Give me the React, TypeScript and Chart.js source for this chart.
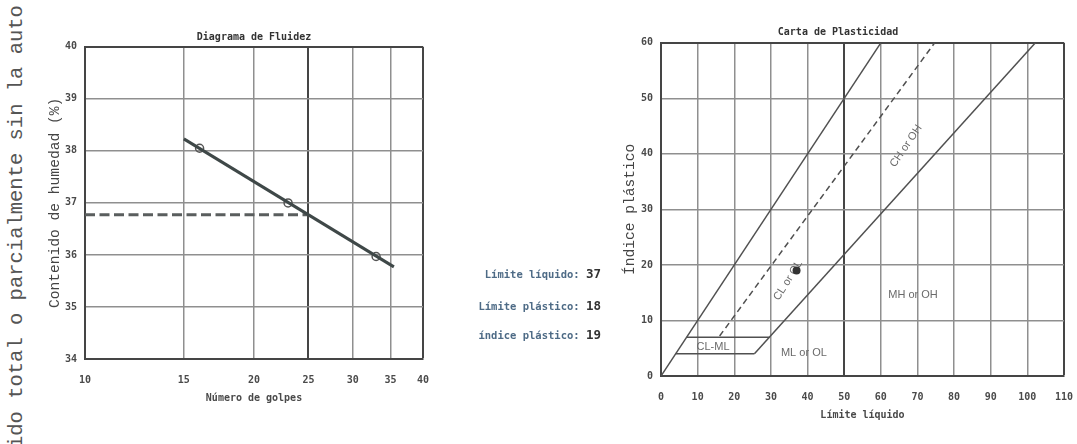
import React, { useEffect, useRef } from 'react';
import { Chart, registerables } from 'chart.js';

Chart.register(...registerables);

// ---------- Diagrama de Fluidez (left) ----------
const golpesTicks = [10, 15, 20, 25, 30, 35, 40];
const humedadTicks = [34, 35, 36, 37, 38, 39, 40];
const ensayoGolpes = [16, 23, 33];
const ensayoHumedad = [38.05, 37.0, 35.97];
const ajusteGolpes = [15, 35.5];
const ajusteHumedad = [38.23, 35.77];
const limiteGolpes = [10, 25];
const limiteHumedad = [36.77, 36.77];

// ---------- Carta de Plasticidad (right) ----------
const llTicks = [0, 10, 20, 30, 40, 50, 60, 70, 80, 90, 100, 110];
const ipTicks = [0, 10, 20, 30, 40, 50, 60];
const diagLL = [0, 60];
const diagIP = [0, 60];
const lineaULL = [16, 74.7];
const lineaUIP = [7.2, 60];
const lineaALL = [25.5, 102.2];
const lineaAIP = [4, 60];
const clml4LL = [4, 25.5];
const clml4IP = [4, 4];
const clml7LL = [7, 29.6];
const clml7IP = [7, 7];
const muestraLL = [37];
const muestraIP = [19];

const zoneLabels = ['CL-ML', 'ML or OL', 'MH or OH', 'CL or OL', 'CH or OH'];
const zoneLabelLL = [14.2, 39, 68.8, 34.7, 66.9];
const zoneLabelIP = [5.3, 4.2, 14.6, 17.2, 41.4];
const zoneLabelAngle = [0, 0, 0, -58, -56];

// ---------- Resultados ----------
const resultLabels = ['Límite líquido:', 'Límite plástico:', 'índice plástico:'];
const resultValues = [37, 18, 19];

const watermark = 'ido total o parcialmente sin la auto';

const pts = (xs: number[], ys: number[]) => xs.map((x, i) => ({ x, y: ys[i] }));

const MONO = '"DejaVu Sans Mono", monospace';
const COURIER = '"Liberation Mono", monospace';
const GRID = '#8f8f8f';
const DARK = '#454545';
const TXT = '#4a4a4a';

const zoneLabelPlugin = {
  id: 'zoneLabels',
  beforeDatasetsDraw(chart: any) {
    const { ctx, scales } = chart;
    const x = scales.x;
    const y = scales.y;
    ctx.save();
    ctx.fillStyle = '#6a6a6a';
    ctx.font = '11px "Liberation Sans Narrow", "Liberation Sans", sans-serif';
    ctx.textAlign = 'center';
    ctx.textBaseline = 'middle';
    zoneLabels.forEach((t, i) => {
      ctx.save();
      ctx.translate(x.getPixelForValue(zoneLabelLL[i]), y.getPixelForValue(zoneLabelIP[i]));
      ctx.rotate((zoneLabelAngle[i] * Math.PI) / 180);
      ctx.fillText(t, 0, 0);
      ctx.restore();
    });
    ctx.restore();
  },
};

const fitX = (h: number) => (s: any) => {
  s.height = h;
  s.paddingLeft = 0;
  s.paddingRight = 0;
};

const tickFont = { family: MONO, size: 10, weight: 'bold' };

export default function App() {
  const leftRef = useRef<HTMLCanvasElement>(null);
  const rightRef = useRef<HTMLCanvasElement>(null);

  useEffect(() => {
    const left = new Chart(leftRef.current as HTMLCanvasElement, {
      type: 'scatter',
      data: {
        datasets: [
          {
            data: pts(ajusteGolpes, ajusteHumedad),
            showLine: true,
            borderColor: '#3f4848',
            borderWidth: 3,
            pointRadius: 0,
          },
          {
            data: pts(limiteGolpes, limiteHumedad),
            showLine: true,
            borderColor: '#5a5e5e',
            borderWidth: 3,
            borderDash: [10, 4.5],
            pointRadius: 0,
          },
          {
            data: pts(ensayoGolpes, ensayoHumedad),
            showLine: false,
            pointRadius: 4,
            pointBorderWidth: 1.5,
            pointBorderColor: '#555',
            pointBackgroundColor: 'rgba(255,255,255,0)',
          },
        ],
      } as any,
      options: {
        animation: false,
        responsive: false,
        devicePixelRatio: 1,
        layout: { padding: { left: 40, right: 17, top: 0, bottom: 40 } },
        plugins: {
          legend: { display: false },
          tooltip: { enabled: false },
          title: {
            display: true,
            text: 'Diagrama de Fluidez',
            fullSize: false,
            color: '#333',
            font: tickFont,
            padding: { top: 31.7, bottom: 3.1 },
          },
        },
        scales: {
          x: {
            type: 'logarithmic',
            min: 10,
            max: 40,
            afterBuildTicks: (s: any) => {
              s.ticks = golpesTicks.map((v) => ({ value: v }));
            },
            afterFit: fitX(45),
            ticks: {
              callback: (v: any) => String(v),
              color: TXT,
              font: tickFont,
              padding: 15,
              maxRotation: 0,
              autoSkip: false,
            },
            grid: {
              drawTicks: false,
              color: (c: any) => (c.tick && (c.tick.value === 25 || c.tick.value === 40) ? DARK : GRID),
              lineWidth: (c: any) => (c.tick && (c.tick.value === 25 || c.tick.value === 40) ? 2 : 1.5),
            },
            border: { color: DARK, width: 2 },
            title: {
              display: true,
              text: 'Número de golpes',
              color: TXT,
              font: tickFont,
              padding: { top: 0, bottom: 0 },
            },
          },
          y: {
            type: 'linear',
            min: 34,
            max: 40,
            afterBuildTicks: (s: any) => {
              s.ticks = humedadTicks.map((v) => ({ value: v }));
            },
            afterFit: (s: any) => {
              s.width = 45;
            },
            ticks: {
              color: TXT,
              font: tickFont,
              padding: 8,
            },
            grid: {
              drawTicks: false,
              color: (c: any) => (c.tick && c.tick.value === 40 ? DARK : GRID),
              lineWidth: (c: any) => (c.tick && c.tick.value === 40 ? 2 : 1.5),
            },
            border: { color: DARK, width: 2 },
            title: {
              display: true,
              text: 'Contenido de humedad (%)',
              color: '#444',
              font: { family: COURIER, size: 14.6 },
              padding: { top: 6.2, bottom: 0 },
            },
          },
        },
      } as any,
    });

    const right = new Chart(rightRef.current as HTMLCanvasElement, {
      type: 'scatter',
      data: {
        datasets: [
          { data: pts(diagLL, diagIP), showLine: true, borderColor: '#505050', borderWidth: 1.5, pointRadius: 0 },
          {
            data: pts(lineaULL, lineaUIP),
            showLine: true,
            borderColor: '#505050',
            borderWidth: 1.5,
            borderDash: [6, 4],
            pointRadius: 0,
          },
          { data: pts(lineaALL, lineaAIP), showLine: true, borderColor: '#505050', borderWidth: 1.5, pointRadius: 0 },
          { data: pts(clml4LL, clml4IP), showLine: true, borderColor: '#505050', borderWidth: 1.5, pointRadius: 0 },
          { data: pts(clml7LL, clml7IP), showLine: true, borderColor: '#505050', borderWidth: 1.5, pointRadius: 0 },
          {
            data: pts(muestraLL, muestraIP),
            showLine: false,
            pointRadius: 4,
            pointBorderWidth: 0,
            pointBackgroundColor: '#333',
          },
        ],
      } as any,
      options: {
        animation: false,
        responsive: false,
        devicePixelRatio: 1,
        layout: { padding: { left: 12, right: 13, top: 0, bottom: 23 } },
        plugins: {
          legend: { display: false },
          tooltip: { enabled: false },
          title: {
            display: true,
            text: 'Carta de Plasticidad',
            color: '#333',
            font: tickFont,
            padding: { top: 26.7, bottom: 4.1 },
          },
        },
        scales: {
          x: {
            type: 'linear',
            min: 0,
            max: 110,
            afterBuildTicks: (s: any) => {
              s.ticks = llTicks.map((v) => ({ value: v }));
            },
            afterFit: fitX(45),
            ticks: {
              color: TXT,
              font: tickFont,
              padding: 15,
              maxRotation: 0,
              autoSkip: false,
            },
            grid: {
              drawTicks: false,
              color: (c: any) => (c.tick && (c.tick.value === 50 || c.tick.value === 110) ? DARK : GRID),
              lineWidth: (c: any) => (c.tick && (c.tick.value === 50 || c.tick.value === 110) ? 2 : 1.5),
            },
            border: { color: DARK, width: 2 },
            title: {
              display: true,
              text: 'Límite líquido',
              color: TXT,
              font: tickFont,
              padding: { top: 0, bottom: 0 },
            },
          },
          y: {
            type: 'linear',
            min: 0,
            max: 60,
            afterBuildTicks: (s: any) => {
              s.ticks = ipTicks.map((v) => ({ value: v }));
            },
            afterFit: (s: any) => {
              s.width = 49;
            },
            ticks: {
              color: TXT,
              font: tickFont,
              padding: 8,
            },
            grid: {
              drawTicks: false,
              color: (c: any) => (c.tick && c.tick.value === 60 ? DARK : GRID),
              lineWidth: (c: any) => (c.tick && c.tick.value === 60 ? 2 : 1.5),
            },
            border: { color: DARK, width: 2 },
            title: {
              display: true,
              text: 'Índice plástico',
              color: '#444',
              font: { family: COURIER, size: 14.6 },
              padding: { top: 9.2, bottom: 0 },
            },
          },
        },
      } as any,
      plugins: [zoneLabelPlugin as any],
    });

    return () => {
      left.destroy();
      right.destroy();
    };
  }, []);

  const resultTops = [264, 296, 325];

  return (
    <div
      style={{
        position: 'fixed',
        left: 0,
        top: 0,
        width: 1077,
        height: 444,
        overflow: 'hidden',
        background: '#ffffff',
      }}
    >
      <div
        style={{
          position: 'absolute',
          left: 7,
          top: 448,
          transformOrigin: '0 0',
          transform: 'rotate(-90deg)',
          whiteSpace: 'nowrap',
          fontFamily: COURIER,
          fontSize: '20.5px',
          lineHeight: '20px',
          color: '#555',
        }}
      >
        {watermark}
      </div>
      <canvas
        ref={leftRef}
        width={440}
        height={444}
        style={{ position: 'absolute', left: 0, top: 0, width: 440, height: 444 }}
      />
      <canvas
        ref={rightRef}
        width={477}
        height={444}
        style={{ position: 'absolute', left: 600, top: 0, width: 477, height: 444 }}
      />
      {resultLabels.map((lab, i) => (
        <div
          key={lab}
          style={{
            position: 'absolute',
            left: 430,
            width: 171,
            top: resultTops[i],
            height: 18,
            lineHeight: '18px',
            textAlign: 'right',
            whiteSpace: 'nowrap',
            fontFamily: MONO,
            fontWeight: 'bold',
          }}
        >
          <span style={{ fontSize: '10.5px', color: '#4e6b86' }}>{lab} </span>
          <span style={{ fontSize: '12.5px', color: '#333' }}>{resultValues[i]}</span>
        </div>
      ))}
    </div>
  );
}
